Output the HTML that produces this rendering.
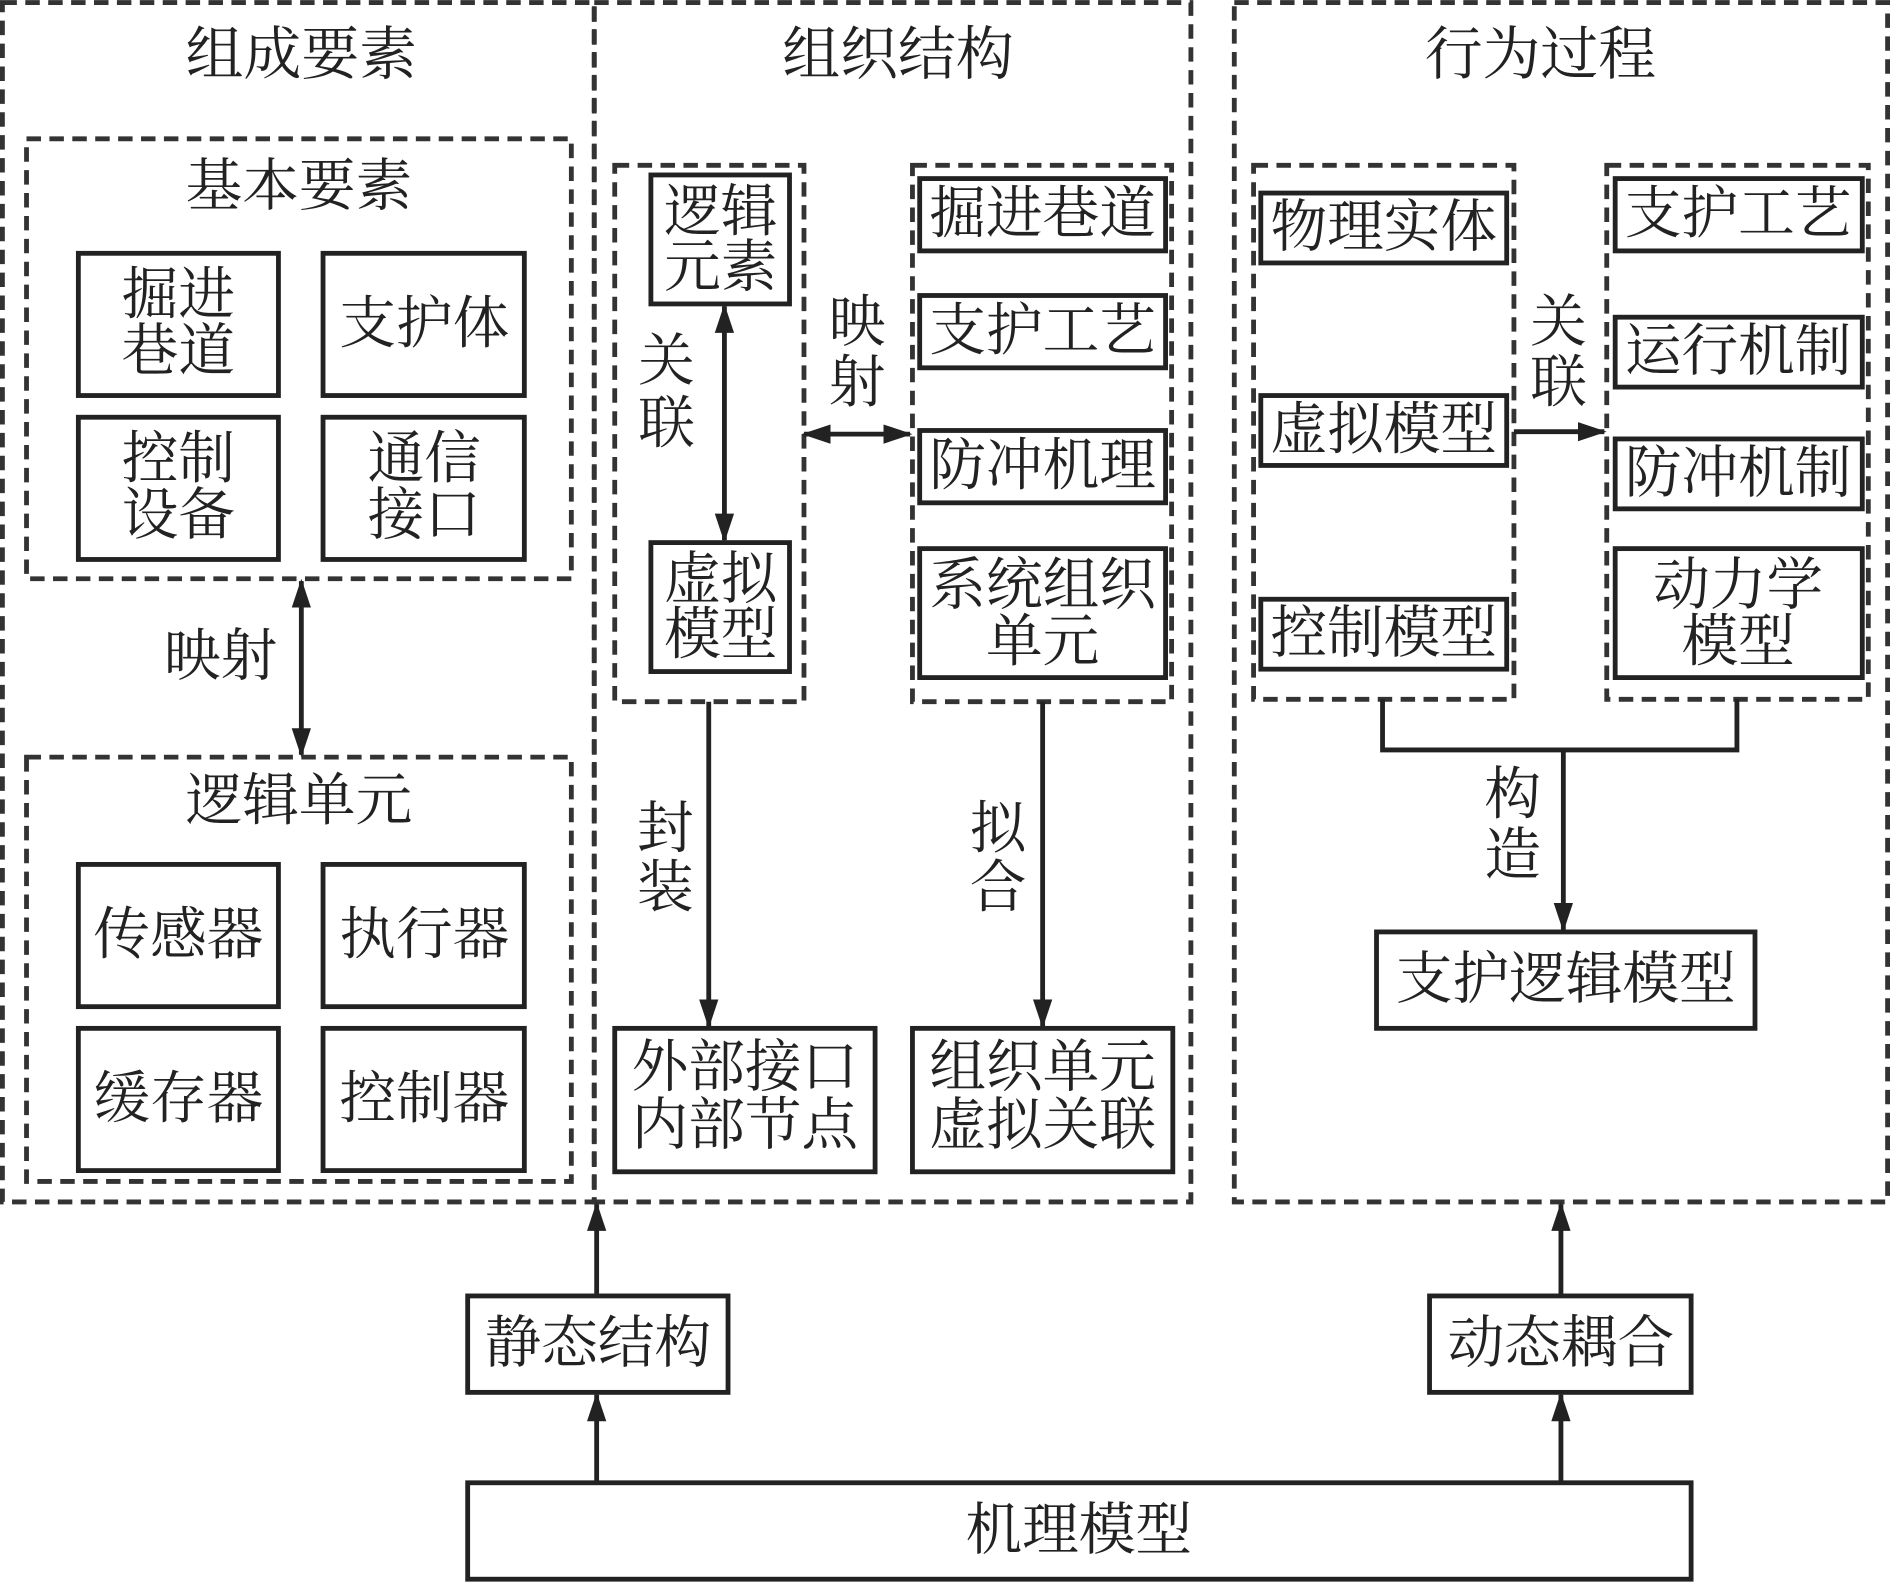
<!DOCTYPE html>
<html><head><meta charset="utf-8"><style>
html,body{margin:0;padding:0;background:#fff;}
svg{display:block}
text{font-family:"Liberation Serif","Noto Serif CJK SC",serif;fill:#222;text-anchor:middle;dominant-baseline:central;}
.b{fill:#fff;stroke:#222;stroke-width:4}
.d{fill:none;stroke:#333;stroke-width:4;stroke-dasharray:12 7}
.l{stroke:#222;stroke-width:4;fill:none}
</style></head><body>
<svg width="1890" height="1583" viewBox="0 0 1568 1313" xmlns="http://www.w3.org/2000/svg">
<defs>
<marker id="m" markerWidth="24" markerHeight="36" refX="22" refY="10" orient="auto-start-reverse" markerUnits="userSpaceOnUse" viewBox="0 0 24 20"><path d="M0,2 L24,10 L0,18z" fill="#222"/></marker></defs>
<g font-size="47">
<rect class="d" x="2" y="2" width="491" height="995"/>
<rect class="d" x="493" y="2" width="495" height="995"/>
<rect class="d" x="1024" y="2" width="542" height="995"/>
<text x="250" y="45" font-size="48">组成要素</text>
<text x="745" y="45" font-size="48">组织结构</text>
<text x="1278" y="45" font-size="48">行为过程</text>
<rect class="d" x="22" y="115" width="452" height="365"/>
<text x="248" y="155">基本要素</text>
<rect class="b" x="65" y="210" width="166" height="118"/><text x="148" y="245">掘进</text><text x="148" y="292">巷道</text>
<rect class="b" x="268" y="210" width="167" height="118"/><text x="352" y="269">支护体</text>
<rect class="b" x="65" y="346" width="166" height="118"/><text x="148" y="381">控制</text><text x="148" y="428">设备</text>
<rect class="b" x="268" y="346" width="167" height="118"/><text x="352" y="381">通信</text><text x="352" y="428">接口</text>
<line class="l" x1="250" y1="482" x2="250" y2="626" marker-start="url(#m)" marker-end="url(#m)"/>
<text x="183" y="545">映射</text>
<rect class="d" x="22" y="628" width="452" height="352"/>
<text x="248" y="665">逻辑单元</text>
<rect class="b" x="65" y="717" width="166" height="118"/><text x="148" y="776">传感器</text>
<rect class="b" x="268" y="717" width="167" height="118"/><text x="352" y="776">执行器</text>
<rect class="b" x="65" y="853" width="166" height="118"/><text x="148" y="912">缓存器</text>
<rect class="b" x="268" y="853" width="167" height="118"/><text x="352" y="912">控制器</text>
<rect class="d" x="510" y="137" width="157" height="445"/>
<rect class="b" x="540" y="145" width="115" height="107"/><text x="598" y="176">逻辑</text><text x="598" y="222">元素</text>
<rect class="b" x="540" y="450" width="115" height="107"/><text x="598" y="481">虚拟</text><text x="598" y="527">模型</text>
<line class="l" x1="601" y1="254" x2="601" y2="448" marker-start="url(#m)" marker-end="url(#m)"/>
<text x="553" y="300">关</text><text x="553" y="352">联</text>
<rect class="d" x="757" y="137" width="215" height="445"/>
<rect class="b" x="763" y="148" width="204" height="60"/><text x="865" y="178">掘进巷道</text>
<rect class="b" x="763" y="245" width="204" height="60"/><text x="865" y="275">支护工艺</text>
<rect class="b" x="763" y="357" width="204" height="60"/><text x="865" y="387">防冲机理</text>
<rect class="b" x="763" y="455" width="204" height="107"/><text x="865" y="486">系统组织</text><text x="865" y="533">单元</text>
<text x="711" y="268">映</text><text x="711" y="318">射</text>
<line class="l" x1="667" y1="360" x2="755" y2="360" marker-start="url(#m)" marker-end="url(#m)"/>
<line class="l" x1="588" y1="582" x2="588" y2="851" marker-end="url(#m)"/>
<text x="552" y="688">封</text><text x="552" y="737">装</text>
<rect class="b" x="510" y="853" width="216" height="119"/><text x="618" y="886">外部接口</text><text x="618" y="934">内部节点</text>
<line class="l" x1="865" y1="582" x2="865" y2="851" marker-end="url(#m)"/>
<text x="828" y="688">拟</text><text x="828" y="737">合</text>
<rect class="b" x="757" y="853" width="216" height="119"/><text x="865" y="886">组织单元</text><text x="865" y="934">虚拟关联</text>
<rect class="d" x="1040" y="137" width="216" height="443"/>
<rect class="b" x="1046" y="160" width="204" height="58"/><text x="1148" y="189">物理实体</text>
<rect class="b" x="1046" y="328" width="204" height="58"/><text x="1148" y="357">虚拟模型</text>
<rect class="b" x="1046" y="497" width="204" height="58"/><text x="1148" y="526">控制模型</text>
<rect class="d" x="1333" y="137" width="217" height="443"/>
<rect class="b" x="1340" y="148" width="205" height="60"/><text x="1442" y="178">支护工艺</text>
<rect class="b" x="1340" y="263" width="205" height="58"/><text x="1442" y="292">运行机制</text>
<rect class="b" x="1340" y="364" width="205" height="58"/><text x="1442" y="393">防冲机制</text>
<rect class="b" x="1340" y="455" width="205" height="107"/><text x="1442" y="486">动力学</text><text x="1442" y="533">模型</text>
<line class="l" x1="1256" y1="358" x2="1331" y2="358" marker-end="url(#m)"/>
<text x="1293" y="268">关</text><text x="1293" y="318">联</text>
<path class="l" d="M1147,580 V622 H1441 V580"/>
<line class="l" x1="1297" y1="622" x2="1297" y2="771" marker-end="url(#m)"/>
<text x="1255" y="660">构</text><text x="1255" y="710">造</text>
<rect class="b" x="1142" y="773" width="314" height="80"/><text x="1299" y="813">支护逻辑模型</text>
<rect class="b" x="388" y="1075" width="216" height="80"/><text x="496" y="1115">静态结构</text>
<rect class="b" x="1186" y="1075" width="217" height="80"/><text x="1295" y="1115">动态耦合</text>
<rect class="b" x="388" y="1230" width="1015" height="80"/><text x="895" y="1270">机理模型</text>
<line class="l" x1="495" y1="1230" x2="495" y2="1157" marker-end="url(#m)"/>
<line class="l" x1="495" y1="1075" x2="495" y2="999" marker-end="url(#m)"/>
<line class="l" x1="1295" y1="1230" x2="1295" y2="1157" marker-end="url(#m)"/>
<line class="l" x1="1295" y1="1075" x2="1295" y2="999" marker-end="url(#m)"/>
</g>
</svg>
</body></html>
